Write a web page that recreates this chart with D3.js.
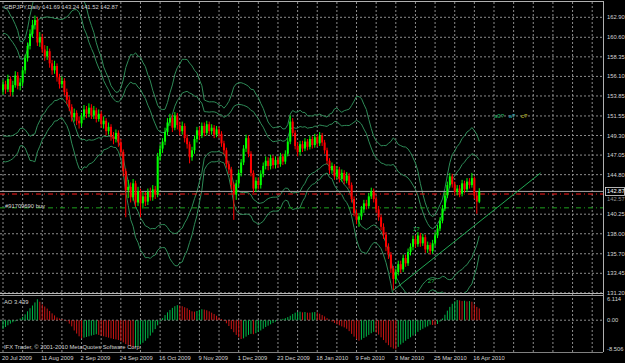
<!DOCTYPE html>
<html>
<head>
<meta charset="utf-8">
<script src="https://cdn.jsdelivr.net/npm/d3@7"></script>
<style>
  body { margin: 0; background: #000; }
  svg { display: block; }
  text { font-family: "Liberation Sans", Arial, sans-serif; }
</style>
</head>
<body>
<div id="chart"></div>
<script>
// GBPJPY daily bars, 20 Jul 2009 .. 20 Apr 2010
var opens = [154.5,155.2,154.6,155.8,154.3,155.1,156.2,155.0,155.4,156.8,158.2,159.6,161.0,162.0,162.6,160.0,160.6,159.2,158.4,159.0,
  157.6,156.8,157.3,156.0,155.2,155.6,154.3,153.4,152.6,151.4,151.9,151.0,150.7,151.5,152.3,151.8,152.5,151.6,152.2,151.2,
  151.8,150.6,151.0,149.8,150.3,149.2,148.9,149.6,148.5,147.4,145.2,143.0,143.4,142.2,143.8,141.6,142.9,141.5,142.3,141.7,
  142.8,142.2,143.1,142.5,146.9,147.8,148.6,149.7,150.8,151.3,150.2,151.6,150.5,149.8,150.4,149.0,148.3,146.8,147.6,148.9,
  149.9,149.3,150.4,149.6,150.6,149.8,150.2,149.4,150.0,149.5,148.4,147.6,146.0,145.4,143.6,142.5,143.8,145.0,146.2,147.8,
  149.0,147.2,145.0,143.2,144.1,143.6,144.9,145.8,146.4,145.8,146.7,145.9,146.5,146.0,146.9,146.3,147.2,148.6,150.9,149.6,
  148.1,147.4,148.3,147.8,148.6,148.0,148.9,148.2,149.1,148.4,149.3,148.5,147.6,146.4,145.3,145.8,144.6,145.4,144.3,145.0,
  144.1,144.7,143.6,142.0,140.4,139.6,140.0,140.8,141.5,141.2,142.3,142.9,142.0,140.8,139.9,138.8,137.9,136.5,135.6,134.0,
  132.8,133.6,134.5,133.9,135.2,134.6,135.9,136.5,137.4,136.8,137.8,136.9,137.6,136.2,136.7,136.0,136.9,137.8,138.6,139.5,
  140.9,142.4,143.6,144.6,143.7,142.8,143.2,142.6,143.8,143.1,144.0,143.6,144.4,142.4,141.69];
var highs = [155.7,155.6,156.3,156.1,155.6,156.7,156.6,155.9,157.2,158.6,160.0,161.5,162.6,163.1,162.9,161.2,161.0,159.7,159.6,159.3,
  158.0,157.9,157.6,156.4,156.1,155.9,154.7,153.8,152.9,152.4,152.2,151.5,151.9,152.8,152.7,153.0,152.9,152.7,152.5,152.3,
  152.1,151.5,151.3,150.8,150.6,149.7,150.0,149.9,148.9,147.7,145.5,144.2,143.9,144.3,144.1,143.4,143.2,142.8,142.8,143.2,
  143.3,143.6,143.5,147.3,148.3,149.0,150.2,151.3,151.8,151.7,152.0,151.9,150.9,150.9,150.7,149.4,148.6,148.0,149.3,150.3,
  150.3,150.8,150.8,151.0,150.9,150.6,150.5,150.4,150.3,149.8,148.7,147.9,146.4,145.7,143.9,144.2,145.4,146.6,148.2,149.4,
  149.3,147.5,145.3,144.5,144.5,145.3,146.2,146.9,146.8,147.1,147.0,146.9,146.9,147.3,147.2,147.6,149.0,151.6,151.3,149.9,
  148.5,148.7,148.7,149.0,148.9,149.3,149.2,149.5,149.4,149.7,149.6,148.8,147.9,146.7,146.2,146.0,145.8,145.7,145.4,145.3,
  145.1,145.0,143.9,142.3,140.8,140.4,141.2,141.9,141.9,142.7,143.3,143.2,142.3,141.2,140.2,139.2,138.2,136.9,135.9,134.3,
  134.0,134.9,134.9,135.6,135.6,136.3,136.9,137.8,137.8,138.2,138.1,138.0,137.9,137.1,137.0,137.3,138.2,139.0,139.9,141.3,
  142.8,144.0,145.0,144.9,144.0,143.6,143.6,144.2,144.1,144.4,144.4,145.0,144.6,142.8,143.24];
var lows = [154.0,154.1,154.3,153.8,153.9,154.8,154.6,154.5,155.0,156.4,157.8,159.2,160.6,161.5,159.6,159.5,158.8,157.9,158.0,157.1,
  156.3,156.4,155.5,154.7,154.8,153.9,152.9,152.1,150.9,150.9,150.5,150.1,150.3,151.1,151.3,151.4,151.2,151.2,150.8,150.9,
  150.2,150.1,149.3,149.4,148.7,148.3,148.5,148.0,146.9,144.6,139.9,142.1,141.6,141.8,141.1,141.2,139.9,140.9,141.2,141.3,
  141.8,141.8,142.0,142.2,146.4,147.3,148.2,149.3,150.4,149.7,149.9,150.0,149.3,149.4,148.5,147.8,146.1,146.4,147.2,148.5,
  148.8,149.0,149.2,149.3,149.4,149.4,149.0,149.1,149.0,148.0,147.1,145.6,144.9,143.1,139.6,141.9,143.4,144.6,145.9,147.4,
  146.8,144.6,142.7,142.8,143.1,143.2,144.5,145.4,145.3,145.4,145.5,145.5,145.6,145.7,145.9,146.0,146.9,148.3,149.2,147.7,
  146.9,147.0,147.4,147.5,147.6,147.7,147.8,147.9,148.0,148.1,148.1,147.2,146.0,144.9,144.9,144.2,144.3,143.9,144.0,143.7,
  143.8,143.2,141.6,140.0,139.1,138.8,139.6,140.4,140.8,140.9,142.0,141.6,140.4,139.5,138.4,137.4,136.0,135.1,133.5,131.5,
  132.3,133.2,133.5,133.6,134.2,134.3,135.5,136.1,136.4,136.5,136.5,136.6,135.8,135.8,135.6,135.7,136.6,137.5,138.3,139.2,
  140.6,142.1,143.3,143.3,142.4,142.4,142.2,142.3,142.7,142.8,143.2,143.3,142.0,140.3,141.52];
var closes = [155.2,154.6,155.8,154.3,155.1,156.2,155.0,155.4,156.8,158.2,159.6,161.0,162.0,162.6,160.0,160.6,159.2,158.4,159.0,157.6,
  156.8,157.3,156.0,155.2,155.6,154.3,153.4,152.6,151.4,151.9,151.0,150.7,151.5,152.3,151.8,152.5,151.6,152.2,151.2,151.8,
  150.6,151.0,149.8,150.3,149.2,148.9,149.6,148.5,147.4,145.2,143.0,143.4,142.2,143.8,141.6,142.9,141.5,142.3,141.7,142.8,
  142.2,143.1,142.5,146.9,147.8,148.6,149.7,150.8,151.3,150.2,151.6,150.5,149.8,150.4,149.0,148.3,146.8,147.6,148.9,149.9,
  149.3,150.4,149.6,150.6,149.8,150.2,149.4,150.0,149.5,148.4,147.6,146.0,145.4,143.6,142.5,143.8,145.0,146.2,147.8,149.0,
  147.2,145.0,143.2,144.1,143.6,144.9,145.8,146.4,145.8,146.7,145.9,146.5,146.0,146.9,146.3,147.2,148.6,150.9,149.6,148.1,
  147.4,148.3,147.8,148.6,148.0,148.9,148.2,149.1,148.4,149.3,148.5,147.6,146.4,145.3,145.8,144.6,145.4,144.3,145.0,144.1,
  144.7,143.6,142.0,140.4,139.6,140.0,140.8,141.5,141.2,142.3,142.9,142.0,140.8,139.9,138.8,137.9,136.5,135.6,134.0,132.8,
  133.6,134.5,133.9,135.2,134.6,135.9,136.5,137.4,136.8,137.8,136.9,137.6,136.2,136.7,136.0,136.9,137.8,138.6,139.5,140.9,
  142.4,143.6,144.6,143.7,142.8,143.2,142.6,143.8,143.1,144.0,143.6,144.4,142.4,141.7,142.87];
// closes of the 19 days before the first visible bar (feed the band average)
var priorCloses = [155.4,157.6,158.6,158.2,158.9,158.6,159.8,157.0,156.9,155.2,153.3,150.2,151.2,149.8,151.8,152.6,154.4,153.9,154.5];

// Awesome Oscillator, one value per bar
var aoValues = [-2.6,-2.0,-1.5,-1.0,-0.6,-0.3,0.1,0.5,1.0,1.7,2.6,3.5,4.3,5.2,6.114,5.4,4.6,4.0,3.4,2.7,
  2.0,1.4,0.8,0.5,0.3,0.1,-0.3,-1.0,-1.8,-3.0,-3.9,-4.7,-5.3,-5.1,-4.9,-4.7,-4.5,-4.3,-4.1,-4.3,
  -4.5,-4.7,-4.9,-5.1,-5.3,-5.5,-5.6,-5.8,-6.1,-6.5,-7.0,-7.4,-7.8,-8.1,-8.0,-7.6,-7.1,-6.6,-6.0,-5.3,
  -4.5,-3.6,-2.6,-1.5,-0.4,0.6,1.5,2.3,3.0,3.6,4.1,4.4,4.3,4.1,3.8,3.5,3.0,2.6,2.5,2.7,
  3.0,3.2,3.1,2.9,2.6,2.2,1.8,1.3,0.8,0.3,-0.2,-0.9,-1.7,-2.6,-3.5,-4.3,-5.0,-5.5,-5.3,-4.8,
  -4.3,-4.0,-4.1,-3.8,-3.4,-3.0,-2.5,-2.0,-1.6,-1.2,-0.8,-0.4,-0.1,0.2,0.4,0.6,0.9,1.3,1.8,2.2,
  2.4,2.5,2.3,2.4,2.2,2.2,2.3,2.4,2.3,1.9,1.5,1.1,0.6,0.1,-0.4,-0.8,-1.2,-1.5,-1.8,-2.1,
  -2.5,-3.2,-4.0,-4.8,-5.5,-6.0,-5.7,-5.2,-4.8,-4.3,-3.8,-3.4,-3.6,-4.2,-5.0,-5.8,-6.6,-7.3,-7.9,-8.3,
  -8.506,-7.8,-7.1,-6.6,-6.0,-5.5,-5.0,-4.5,-4.0,-3.4,-2.9,-2.5,-2.1,-1.8,-1.3,-1.4,-1.5,-1.1,-0.4,0.5,
  1.6,2.8,3.9,4.8,5.5,5.9,5.8,5.6,5.7,5.5,5.6,5.4,4.6,3.9,3.439];

var priceTicks = [162.90,160.60,158.35,156.10,153.85,151.55,149.30,147.05,144.80,140.25,138.00,135.70,133.45,131.20];
var dateTicks = ["20 Jul 2009","11 Aug 2009","2 Sep 2009","24 Sep 2009","16 Oct 2009","9 Nov 2009","1 Dec 2009",
  "23 Dec 2009","18 Jan 2010","9 Feb 2010","3 Mar 2010","25 Mar 2010","16 Apr 2010"];
var aoTicks = [6.114, 0, -8.506];
var aoTickLabels = ["6.114", "0.00", "-8.506"];

var lastPrice = 142.87, orderPrice = 142.57, buyPrice = 140.98;
// trend line anchors: [bar index, price]
var trendLine = [[159, 131.5], [219, 145.0]];
var waveLabels = [
  {bar: 167, price: 138.3, text: "1?", color: "#22c04a"},
  {bar: 173, price: 132.3, text: "2?", color: "#22c04a"},
  {bar: 200, price: 151.3, text: "a3?", color: "#20b860"},
  {bar: 206, price: 151.3, text: "a?", color: "#20b0c0"},
  {bar: 211, price: 151.3, text: "c?", color: "#c8c820"}
];

var width = 625, height = 363;
var plotRight = 603, mainTop = 2, mainBottom = 293, aoBottom = 352;
var barStep = 2.455;

var x = d3.scaleLinear().domain([0, 1]).range([3, 3 + barStep]);
var y = d3.scaleLinear().domain([131.07, 164.66]).range([294, 2]);
var yAO = d3.scaleLinear().domain([-8.506, 6.114]).range([349.3, 299.3]);

var svg = d3.select("#chart").append("svg")
    .attr("width", width)
    .attr("height", height)
    .style("background", "#000");

svg.append("defs").append("clipPath").attr("id", "mainClip")
  .append("rect").attr("x", 0).attr("y", mainTop).attr("width", plotRight).attr("height", mainBottom - mainTop);

var gridColor = "#8c8c8c";

// vertical grid, every 8 bars
var vBars = d3.range(0, 250, 8).filter(function (b) { return x(b) < plotRight; });
svg.append("g").selectAll("line").data(vBars).enter().append("line")
    .attr("x1", function (d) { return x(d); })
    .attr("x2", function (d) { return x(d); })
    .attr("y1", mainTop)
    .attr("y2", aoBottom)
    .attr("stroke", gridColor)
    .attr("stroke-width", 1)
    .attr("stroke-dasharray", "2,2");

// horizontal grid
svg.append("g").selectAll("line").data(priceTicks).enter().append("line")
    .attr("x1", 0).attr("x2", plotRight)
    .attr("y1", function (d) { return y(d); })
    .attr("y2", function (d) { return y(d); })
    .attr("stroke", gridColor)
    .attr("stroke-dasharray", "2,2");

svg.append("line")
    .attr("x1", 0).attr("x2", plotRight)
    .attr("y1", yAO(0)).attr("y2", yAO(0))
    .attr("stroke", gridColor)
    .attr("stroke-dasharray", "2,2");

// bollinger bands 20 / 2 and 3 deviations
var allCloses = priorCloses.concat(closes);
var bands = closes.map(function (c, i) {
  var win = allCloses.slice(i, i + 20);
  var m = d3.mean(win);
  var sd = Math.sqrt(d3.mean(win, function (v) { return (v - m) * (v - m); }));
  return {i: i, m: m, sd: sd};
});

var main = svg.append("g").attr("clip-path", "url(#mainClip)");

[2, -2, 3, -3].forEach(function (k) {
  var line = d3.line()
      .x(function (d) { return x(d.i); })
      .y(function (d) { return y(d.m + k * d.sd); });
  main.append("path")
      .datum(bands)
      .attr("d", line)
      .attr("fill", "none")
      .attr("stroke", "#2e8b57")
      .attr("stroke-width", 1);
});

// order lines
main.append("line")
    .attr("x1", 0).attr("x2", plotRight)
    .attr("y1", y(lastPrice)).attr("y2", y(lastPrice))
    .attr("stroke", "#a8a8a8").attr("stroke-width", 1);
main.append("line")
    .attr("x1", 0).attr("x2", plotRight)
    .attr("y1", y(orderPrice)).attr("y2", y(orderPrice))
    .attr("stroke", "#ff1a1a").attr("stroke-width", 1)
    .attr("stroke-dasharray", "5,3,1,3");
main.append("line")
    .attr("x1", 0).attr("x2", plotRight)
    .attr("y1", y(buyPrice)).attr("y2", y(buyPrice))
    .attr("stroke", "#1ea01e").attr("stroke-width", 1)
    .attr("stroke-dasharray", "5,3,1,3");

// candles
var bars = closes.map(function (c, i) {
  return {i: i, o: opens[i], h: highs[i], l: lows[i], c: c};
});
var candle = main.append("g").selectAll("g").data(bars).enter().append("g");
candle.append("line")
    .attr("x1", function (d) { return x(d.i); })
    .attr("x2", function (d) { return x(d.i); })
    .attr("y1", function (d) { return y(d.h); })
    .attr("y2", function (d) { return y(d.l); })
    .attr("stroke", function (d) { return d.c >= d.o ? "#00ff00" : "#ff0000"; })
    .attr("stroke-width", 1);
candle.append("rect")
    .attr("x", function (d) { return x(d.i) - 1; })
    .attr("width", 2)
    .attr("y", function (d) { return y(Math.max(d.o, d.c)); })
    .attr("height", function (d) { return Math.max(0.8, Math.abs(y(d.o) - y(d.c))); })
    .attr("fill", function (d) { return d.c >= d.o ? "#00ff00" : "#ff0000"; });

// trend line
main.append("path")
    .datum(trendLine)
    .attr("d", d3.line().x(function (d) { return x(d[0]); }).y(function (d) { return y(d[1]); }))
    .attr("stroke", "#22aa55")
    .attr("stroke-width", 1)
    .attr("fill", "none");

main.selectAll(".wave").data(waveLabels).enter().append("text")
    .attr("class", "wave")
    .attr("x", function (d) { return x(d.bar); })
    .attr("y", function (d) { return y(d.price); })
    .attr("fill", function (d) { return d.color; })
    .style("font-size", "6px")
    .text(function (d) { return d.text; });

// AO histogram
svg.append("g").selectAll("line").data(aoValues).enter().append("line")
    .attr("x1", function (d, i) { return x(i); })
    .attr("x2", function (d, i) { return x(i); })
    .attr("y1", yAO(0))
    .attr("y2", function (d) { return yAO(d); })
    .attr("stroke", function (d, i) { return (i === 0 || d > aoValues[i - 1]) ? "#00b848" : "#cc1414"; })
    .attr("stroke-width", 1);

// frame
svg.append("line").attr("x1", 0).attr("x2", plotRight).attr("y1", 1.5).attr("y2", 1.5)
    .attr("stroke", "#b0b0b0");
svg.append("line").attr("x1", plotRight + 0.5).attr("x2", plotRight + 0.5).attr("y1", 1).attr("y2", aoBottom)
    .attr("stroke", "#b0b0b0");
svg.append("line").attr("x1", 0).attr("x2", plotRight).attr("y1", 293.5).attr("y2", 293.5)
    .attr("stroke", "#b8b8b8");
svg.append("line").attr("x1", 0).attr("x2", plotRight).attr("y1", 295.5).attr("y2", 295.5)
    .attr("stroke", "#9a9a9a");
svg.append("line").attr("x1", 0).attr("x2", plotRight).attr("y1", aoBottom + 0.5).attr("y2", aoBottom + 0.5)
    .attr("stroke", "#808080");

var textColor = "#d4d4d4";
var fs = "5.8px";

// price axis
svg.append("g").selectAll("text").data(priceTicks).enter().append("text")
    .attr("x", 607)
    .attr("y", function (d) { return y(d) + 2; })
    .attr("fill", textColor)
    .style("font-size", fs)
    .text(function (d) { return d.toFixed(2); });

svg.append("text")
    .attr("x", 607).attr("y", y(lastPrice) + 9.5)
    .attr("fill", "#909090").style("font-size", fs)
    .text(orderPrice.toFixed(2));
svg.append("rect")
    .attr("x", 605.5).attr("y", y(lastPrice) - 4)
    .attr("width", 19).attr("height", 8)
    .attr("fill", "#000").attr("stroke", "#e0e0e0").attr("stroke-width", 0.8);
svg.append("text")
    .attr("x", 607).attr("y", y(lastPrice) + 2)
    .attr("fill", "#ffffff").style("font-size", fs)
    .text(lastPrice.toFixed(2));

// AO axis
svg.append("g").selectAll("text").data(aoTicks).enter().append("text")
    .attr("x", 607)
    .attr("y", function (d) { return yAO(d) + 2; })
    .attr("fill", textColor)
    .style("font-size", fs)
    .text(function (d, i) { return aoTickLabels[i]; });

// date axis
svg.append("g").selectAll("text").data(dateTicks).enter().append("text")
    .attr("x", function (d, i) { return x(i * 16) - 1; })
    .attr("y", 360)
    .attr("fill", textColor)
    .style("font-size", fs)
    .text(function (d) { return d; });

svg.append("text").attr("x", 4).attr("y", 8.5).attr("fill", textColor).style("font-size", fs)
    .text("GBPJPY,Daily  141.69 143.24 141.52 142.87");
svg.append("text").attr("x", 5).attr("y", 207.5).attr("fill", textColor).style("font-size", fs)
    .text("#91709690 buy");
svg.append("text").attr("x", 4).attr("y", 304).attr("fill", textColor).style("font-size", fs)
    .text("AO 3.439");
svg.append("text").attr("x", 4).attr("y", 349).attr("fill", textColor).style("font-size", fs)
    .text("IFX Trader, \u00a9 2001-2010 MetaQuotes Software Corp.");
</script>
</body>
</html>
